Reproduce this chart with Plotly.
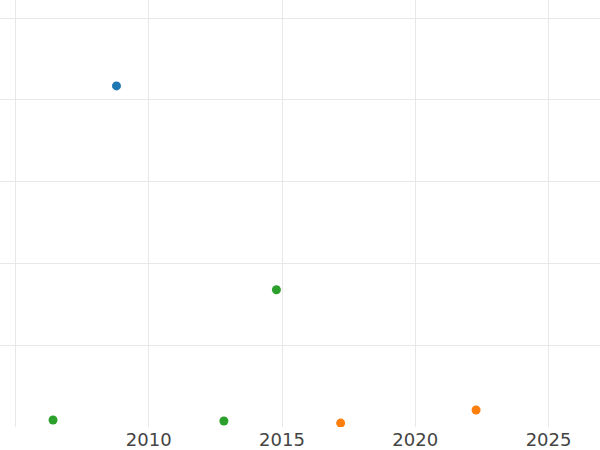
import plotly.graph_objects as go

# three groups of points (year, value)
blue_x = [2008.79]
blue_y = [41.7]
orange_x = [2017.2, 2022.28]
orange_y = [0.48, 2.08]
green_x = [2006.41, 2012.82, 2014.79]
green_y = [0.86, 0.74, 16.78]

fig = go.Figure()
for xs, ys, col in [(blue_x, blue_y, "#1f77b4"),
                    (orange_x, orange_y, "#ff7f0e"),
                    (green_x, green_y, "#2ca02c")]:
    fig.add_trace(go.Scatter(x=xs, y=ys, mode="markers",
                             marker=dict(color=col, size=9)))

fig.update_layout(
    width=600, height=450,
    margin=dict(l=0, r=0, t=0, b=23),
    plot_bgcolor="white", paper_bgcolor="white",
    showlegend=False,
    font=dict(family="DejaVu Sans", color="#444", size=18),
)
fig.update_xaxes(range=[2004.42, 2026.93], tickvals=[2005, 2010, 2015, 2020, 2025],
                 ticktext=["", "2010", "2015", "2020", "2025"],
                 gridcolor="#e8e8e8", zeroline=False, showline=False)
fig.update_yaxes(range=[0, 52.2], dtick=10, showticklabels=False,
                 gridcolor="#e8e8e8", zeroline=False, showline=False)
# drop the browser's default 8px body margin so the chart fills the window
fig.write_html("out.html", config={"displayModeBar": False},
               post_script="document.body.style.margin='0';")
